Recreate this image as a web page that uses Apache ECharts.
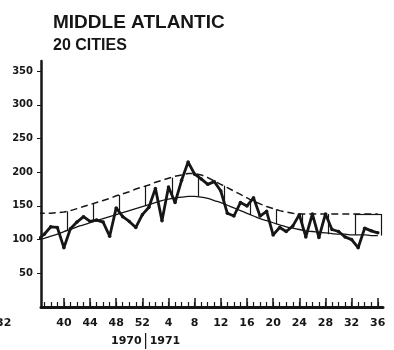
<!DOCTYPE html>
<html>
<head>
<meta charset="utf-8">
<script src="https://cdn.jsdelivr.net/npm/echarts@6/dist/echarts.min.js"></script>
<style>
  html, body { margin: 0; padding: 0; background: #fff; }
  #chart { width: 394px; height: 350px; }
</style>
</head>
<body>
<div id="chart"></div>
<script>
// index 0 = week 36 of 1970, index 52 = week 36 of 1971
const weekNumbers = [36, 37, 38, 39, 40, 41, 42, 43, 44, 45, 46, 47, 48, 49, 50, 51, 52,
  1, 2, 3, 4, 5, 6, 7, 8, 9, 10, 11, 12, 13, 14, 15, 16, 17, 18, 19, 20,
  21, 22, 23, 24, 25, 26, 27, 28, 29, 30, 31, 32, 33, 34, 35, 36]
const labelWeeks = [4, 8, 12, 16, 20, 24, 28, 32, 36, 40, 44, 48, 52]
const yTicks = [50, 100, 150, 200, 250, 300, 350]

// observed deaths (jagged line)
const observed = [100, 108, 119, 118, 88, 116, 126, 134, 127, 129, 126, 105, 147, 134, 127, 118,
  137, 148, 176, 128, 178, 155, 188, 215, 197, 190, 182, 186, 172, 139, 135, 155, 150, 162,
  135, 142, 107, 118, 112, 120, 137, 104, 138, 103, 138, 115, 112, 104, 100, 88, 117, 113, 110]
// expected (solid smooth curve)
const expected = [100, 102, 105, 108, 112, 115, 119, 122, 125, 128, 131, 134, 137, 140, 143, 146,
  149, 152, 155, 158, 160, 162, 163, 164, 164, 163, 161, 158, 155, 151, 147, 143, 139, 135,
  131, 128, 125, 122, 119, 117, 115, 113, 112, 111, 110, 109, 108, 108, 107, 107, 107, 106, 106]
// epidemic threshold (dashed curve)
const threshold = [139, 139, 139, 140, 141, 143, 146, 149, 152, 155, 158, 161, 165, 168, 171, 175,
  178, 181, 185, 188, 191, 194, 196, 198, 198, 196, 192, 187, 182, 177, 172, 167, 162, 157,
  153, 149, 146, 143, 141, 139, 138, 138, 138, 138, 138, 138, 138, 138, 138, 138, 138, 138, 138]

// 4-week period edges (vertical bars between the two curves)
const periodEdges = [4.5, 8.5, 12.5, 16.5, 20.5, 24.5, 28.5, 32.5, 36.5, 40.5, 44.5, 48.5, 52.5]
const edgeLow = [113, 126, 138, 150, 161, 164, 152, 137, 123, 113, 108, 107, 106]
const edgeHigh = [142, 153, 166, 180, 192, 197, 180, 160, 145, 138, 138, 138, 138]

const INK = '#161616'
const FONT = 'DejaVu Sans'

const chart = echarts.init(document.getElementById('chart'), null, { renderer: 'canvas' })

const edgeLines = periodEdges.map((x, k) => [{ coord: [x, edgeLow[k]] }, { coord: [x, edgeHigh[k]] }])
// solid top of the last period box
edgeLines.push([{ coord: [periodEdges[11], edgeHigh[11]] }, { coord: [periodEdges[12], edgeHigh[12]] }])

const allWeeks = weekNumbers.map((w, i) => i).filter(i => i > 0)

chart.setOption({
  animation: false,
  backgroundColor: '#fff',
  grid: { left: 41, right: 11, top: 61, bottom: 43 },
  xAxis: [
    {
      type: 'value', min: 0.5, max: 52.8, position: 'bottom',
      axisLine: { lineStyle: { color: INK, width: 3 } },
      axisTick: { inside: true, length: 9, lineStyle: { color: INK, width: 1.5 }, customValues: labelWeeks },
      axisLabel: {
        customValues: labelWeeks, formatter: v => String(weekNumbers[v]),
        color: INK, fontFamily: FONT, fontWeight: 'bold', fontSize: 11, margin: 11
      },
      splitLine: { show: false }
    },
    {
      type: 'value', min: 0.5, max: 52.8, position: 'bottom',
      axisLine: { show: false },
      axisTick: { inside: true, length: 5, lineStyle: { color: INK, width: 1.2 }, customValues: allWeeks },
      axisLabel: { show: false },
      splitLine: { show: false }
    }
  ],
  yAxis: {
    type: 'value', min: 0, max: 365,
    axisLine: { show: true, lineStyle: { color: INK, width: 2.5 } },
    axisTick: { show: true, length: 4, lineStyle: { color: INK, width: 1 }, customValues: yTicks },
    axisLabel: {
      customValues: yTicks, color: INK, fontFamily: FONT, fontWeight: 'bold', fontSize: 10, margin: 8
    },
    splitLine: { show: false }
  },
  series: [
    {
      type: 'line', data: threshold.map((v, i) => [i, v]), showSymbol: false,
      lineStyle: { color: INK, width: 1.5, type: [7, 4] }
    },
    {
      type: 'line', data: expected.map((v, i) => [i, v]), showSymbol: false, smooth: true,
      lineStyle: { color: INK, width: 1.3 },
      markLine: {
        silent: true, symbol: 'none', label: { show: false },
        lineStyle: { color: INK, width: 1.2, type: 'solid' },
        data: edgeLines
      }
    },
    {
      type: 'line', data: observed.map((v, i) => [i, v]),
      symbol: 'circle', symbolSize: 3.5, itemStyle: { color: INK },
      lineStyle: { color: INK, width: 2.8 }
    }
  ]
})

// year labels under the week axis
const sepX = chart.convertToPixel({ xAxisIndex: 0 }, 16.5)
chart.setOption({
  graphic: [
    { type: 'text', left: 53, top: 13, style: { text: 'MIDDLE ATLANTIC', fill: INK, font: 'bold 19px "Liberation Sans"' } },
    { type: 'text', left: 53, top: 38, style: { text: '20 CITIES', fill: INK, font: 'bold 16px "Liberation Sans"' } },
    { type: 'text', x: sepX - 4, y: 341, style: { text: '1970', fill: INK, font: 'bold 11px "DejaVu Sans"', align: 'right', verticalAlign: 'middle' } },
    { type: 'text', x: sepX + 4, y: 341, style: { text: '1971', fill: INK, font: 'bold 11px "DejaVu Sans"', align: 'left', verticalAlign: 'middle' } },
    { type: 'line', shape: { x1: sepX, y1: 333, x2: sepX, y2: 349 }, style: { stroke: INK, lineWidth: 1.2 } },
    { type: 'text', x: -4, y: 323, style: { text: '32', fill: INK, font: 'bold 11px "DejaVu Sans"', verticalAlign: 'middle' } }
  ]
})
</script>
</body>
</html>
